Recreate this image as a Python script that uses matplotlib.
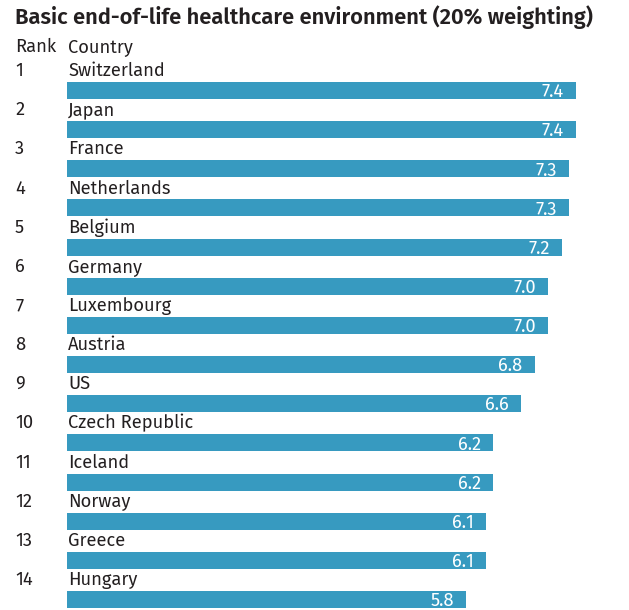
import matplotlib
matplotlib.use("Agg")
import matplotlib.pyplot as plt

ranks = [1, 2, 3, 4, 5, 6, 7, 8, 9, 10, 11, 12, 13, 14]
countries = ["Switzerland", "Japan", "France", "Netherlands", "Belgium", "Germany",
             "Luxembourg", "Austria", "US", "Czech Republic", "Iceland", "Norway",
             "Greece", "Hungary"]
scores = [7.4, 7.4, 7.3, 7.3, 7.2, 7.0, 7.0, 6.8, 6.6, 6.2, 6.2, 6.1, 6.1, 5.8]
title = "Basic end-of-life healthcare environment (20% weighting)"

plt.rcParams['font.family'] = ["Fira Sans", "DejaVu Sans"]

W, H = 629, 610
fig = plt.figure(figsize=(W / 100, H / 100), dpi=100)
ax = fig.add_axes([0, 0, 1, 1])
ax.axis("off")

px_per_unit = 68.75
x0 = 67
row_px = 39.15
y0 = 90.5
ax.set_xlim(-x0 / px_per_unit, (W - x0) / px_per_unit)
ax.set_ylim((H - y0) / row_px, -y0 / row_px)

bar_color = "#379ac0"
text_color = "#231f20"
ypos = list(range(len(countries)))
ax.barh(ypos, scores, height=17 / row_px, left=0, color=bar_color)

fs = 13.2
rank_x = (15 - x0) / px_per_unit
for i, (r, c, s) in enumerate(zip(ranks, countries, scores)):
    ax.text(rank_x, i - 0.50, str(r), fontsize=fs, color=text_color, va="center", ha="left")
    ax.text(0.02, i - 0.50, c, fontsize=fs, color=text_color, va="center", ha="left")
    ax.text(s - 12 / px_per_unit, i + 0.04, f"{s:.1f}", fontsize=fs, color="white",
            va="center", ha="right")

ax.text(rank_x, -1.12, "Rank", fontsize=fs, color=text_color, va="center", ha="left")
ax.text(0.02, -1.12, "Country", fontsize=fs, color=text_color, va="center", ha="left")
ax.text(rank_x, -1.87, title, fontsize=15.8, fontweight="semibold", color=text_color,
        va="center", ha="left")

fig.savefig("out.png", dpi=100)
